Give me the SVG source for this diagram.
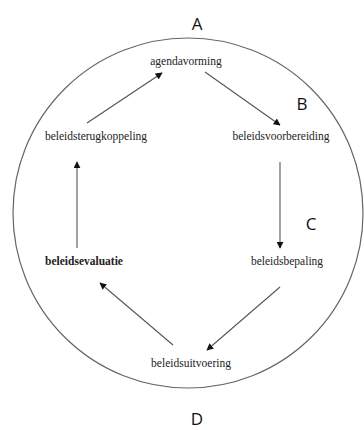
<svg xmlns="http://www.w3.org/2000/svg" width="364" height="430" viewBox="0 0 364 430">
<style>
.n{font-family:"Liberation Serif","Times New Roman",serif;font-size:11.5px;fill:#222;text-anchor:middle}
.b{font-weight:bold}
.l{font-family:"Open Sans","Liberation Sans",sans-serif;font-size:17px;fill:#111;text-anchor:middle}
.c{stroke:#555;stroke-width:1.1;fill:none;marker-end:url(#ah)}
</style>
<defs>
<marker id="ah" viewBox="0 0 10 10" refX="9" refY="5" markerWidth="7" markerHeight="7" orient="auto" markerUnits="userSpaceOnUse">
<path d="M0,0 L10,5 L0,10 z" fill="#111"/>
</marker>
</defs>
<rect width="364" height="430" fill="#fff"/>
<circle cx="188" cy="213" r="175" fill="none" stroke="#666" stroke-width="1.2"/>
<g id="labels">
<text class="l" x="197" y="30">A</text>
<text class="l" x="302" y="110">B</text>
<text class="l" x="311" y="230">C</text>
<text class="l" x="197" y="425">D</text>
</g>
<g id="connectors">
<line class="c" x1="87" y1="123" x2="162" y2="73"/>
<line class="c" x1="205" y1="72" x2="280" y2="125"/>
<line class="c" x1="280" y1="162" x2="280" y2="248"/>
<line class="c" x1="280" y1="287" x2="207" y2="350"/>
<line class="c" x1="173" y1="345" x2="100" y2="283"/>
<line class="c" x1="77" y1="248" x2="77" y2="162"/>
</g>
<g id="agendavorming"><text class="n" x="186" y="65">agendavorming</text></g>
<g id="beleidsvoorbereiding"><text class="n" x="281" y="140">beleidsvoorbereiding</text></g>
<g id="beleidsbepaling"><text class="n" x="287" y="265">beleidsbepaling</text></g>
<g id="beleidsuitvoering"><text class="n" x="191" y="367">beleidsuitvoering</text></g>
<g id="beleidsevaluatie"><text class="n b" x="84" y="265">beleidsevaluatie</text></g>
<g id="beleidsterugkoppeling"><text class="n" x="96" y="140">beleidsterugkoppeling</text></g>
</svg>
